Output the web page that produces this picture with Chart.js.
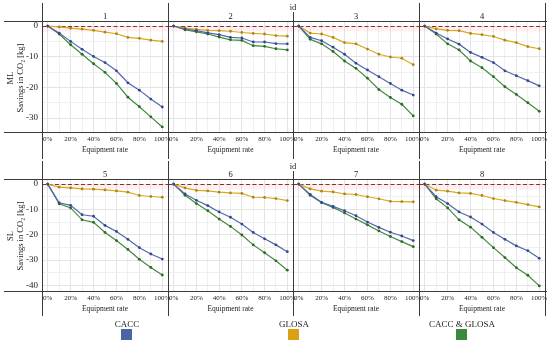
<!DOCTYPE html>
<html>
<head>
<meta charset="utf-8">
<script src="https://cdn.jsdelivr.net/npm/chart.js@4.4.1/dist/chart.umd.min.js"></script>
<style>
  body { margin: 0; background: #fff; }
  #fig { position: relative; width: 550px; height: 343px; overflow: hidden; background: #fff;
         font-family: "Liberation Serif", "DejaVu Serif", serif; color: #1a1a1a; }
  #fig canvas { position: absolute; }
  .hl { position: absolute; height: 1px; background: #3a3a3a; }
  .vl { position: absolute; width: 1px; background: #3a3a3a; }
  .lbl { position: absolute; white-space: nowrap; line-height: 1; transform: translate(-50%, -50%); }
  .rot { transform: translate(-50%, -50%) rotate(-90deg); }
  .sw { position: absolute; width: 11px; height: 11px; }
</style>
</head>
<body>
<div id="fig"></div>
<script>
// equipment rate (%) and facet ids
const rates = [0, 10, 20, 30, 40, 50, 60, 70, 80, 90, 100];
const panelIds = [1, 2, 3, 4, 5, 6, 7, 8];
const rowNames = ['ML', 'SL'];
const seriesNames = ['CACC', 'GLOSA', 'CACC & GLOSA'];
const yTicksML = [0, -5, -10, -15, -20, -25, -30];
const yTicksSL = [0, -5, -10, -15, -20, -25, -30, -35, -40];

// savings in CO2 [kg], one array per panel (ids 1..8)
const cacc = [
  [0, -2.3, -5.0, -7.6, -9.9, -11.9, -14.6, -18.5, -20.9, -23.8, -26.4],
  [0, -1.0, -1.5, -2.2, -2.8, -3.7, -3.9, -5.2, -5.2, -5.7, -5.8],
  [0, -3.7, -4.8, -6.9, -9.2, -12.1, -14.3, -16.5, -18.7, -20.9, -22.5],
  [0, -2.3, -4.2, -5.9, -8.6, -10.2, -11.9, -14.6, -16.2, -17.8, -19.5],
  [0, -7.4, -8.4, -12.1, -12.7, -16.3, -18.7, -21.8, -25.1, -27.6, -29.6],
  [0, -3.9, -6.4, -8.5, -11.0, -13.1, -15.8, -19.1, -21.6, -24.0, -26.7],
  [0, -4.1, -7.2, -8.8, -10.5, -12.5, -15.0, -17.1, -19.0, -20.5, -22.3],
  [0, -5.0, -7.7, -11.0, -13.0, -15.8, -19.1, -21.8, -24.4, -26.3, -29.3]
];
const glosa = [
  [0, -0.3, -0.7, -1.0, -1.4, -2.0, -2.5, -3.7, -4.0, -4.6, -5.0],
  [0, -0.7, -1.1, -1.4, -1.5, -1.7, -2.1, -2.4, -2.6, -3.1, -3.3],
  [0, -2.3, -2.6, -3.7, -5.4, -5.8, -7.5, -9.2, -10.1, -10.5, -12.6],
  [0, -0.9, -1.4, -1.5, -2.4, -2.8, -3.4, -4.6, -5.4, -6.7, -7.4],
  [0, -1.2, -1.5, -1.9, -2.0, -2.3, -2.7, -3.2, -4.5, -4.9, -5.2],
  [0, -1.5, -2.5, -2.7, -3.2, -3.5, -3.7, -5.2, -5.3, -5.7, -6.5],
  [0, -1.9, -2.8, -3.1, -3.9, -4.1, -5.0, -5.8, -6.8, -6.9, -7.0],
  [0, -2.4, -2.8, -3.5, -3.7, -4.5, -5.7, -6.5, -7.2, -8.1, -9.0]
];
const caccGlosa = [
  [0, -2.6, -6.1, -9.2, -12.3, -15.1, -18.7, -23.2, -26.3, -29.6, -32.9],
  [0, -1.2, -1.9, -2.6, -3.6, -4.5, -4.7, -6.4, -6.6, -7.4, -7.8],
  [0, -4.3, -5.8, -8.3, -11.4, -13.8, -17.0, -20.7, -23.3, -25.5, -29.3],
  [0, -2.6, -5.8, -7.8, -11.4, -13.6, -16.5, -19.8, -22.3, -25.0, -27.8],
  [0, -7.8, -9.4, -14.1, -15.1, -19.1, -22.3, -25.8, -29.7, -32.9, -35.9],
  [0, -4.4, -7.7, -10.5, -13.8, -16.7, -20.1, -24.0, -27.1, -30.3, -34.0],
  [0, -4.4, -7.4, -9.2, -11.4, -13.8, -16.1, -18.5, -20.7, -22.7, -24.7],
  [0, -5.8, -9.4, -14.1, -17.0, -21.0, -25.1, -29.0, -33.0, -36.0, -40.2]
];

const lineColors = ['#5069ad', '#d8aa22', '#418b3b'];
const pointColors = ['#34488a', '#b08612', '#2c6a2a'];
const swatchColors = ['#4a64a6', '#d9a216', '#3b8a3b'];
const FONT = '"Liberation Serif", "DejaVu Serif", serif';

// layout of the facet grid (pixels)
const borders = [42, 168, 293, 419, 545];
const rows = [{ top: 21, bottom: 132 }, { top: 179, bottom: 291 }];
const AXIS_H = 25, PAD = 12;

const fig = document.getElementById('fig');

function addEl(cls, css, text) {
  const d = document.createElement('div');
  d.className = cls;
  Object.assign(d.style, css);
  if (text !== undefined) d.textContent = text;
  fig.appendChild(d);
  return d;
}

// dashed zero line with a faint band under it
const zeroLine = {
  id: 'zeroLine',
  beforeDatasetsDraw(chart) {
    const { ctx, chartArea: a, scales: { y } } = chart;
    const y0 = Math.round(y.getPixelForValue(0)) + 0.5;
    ctx.save();
    ctx.fillStyle = 'rgba(255, 160, 185, 0.16)';
    ctx.fillRect(a.left, y0, a.right - a.left, 5);
    ctx.strokeStyle = '#8e3020';
    ctx.lineWidth = 1;
    ctx.setLineDash([4, 2.5]);
    ctx.beginPath();
    ctx.moveTo(a.left, y0);
    ctx.lineTo(a.right, y0);
    ctx.stroke();
    ctx.restore();
  }
};

const xPad = (rates[rates.length - 1] - rates[0]) * 0.05;

panelIds.forEach((id, i) => {
  const row = Math.floor(i / 4), col = i % 4;
  const r = rows[row];
  const left = borders[col], right = borders[col + 1];

  // y range like ggplot: 5% expansion of the row's data range
  const rowVals = [0, 1, 2, 3].flatMap(c => {
    const k = row * 4 + c;
    return [...cacc[k], ...glosa[k], ...caccGlosa[k]];
  });
  const lo = Math.min(...rowVals), hi = Math.max(...rowVals);
  const yPad = (hi - lo) * 0.05;
  const yTicks = row === 0 ? yTicksML : yTicksSL;

  const cv = document.createElement('canvas');
  const cvLeft = col === 0 ? 0 : left - PAD;
  const cvTop = r.top - PAD;
  cv.width = right + PAD - cvLeft;
  cv.height = r.bottom + AXIS_H - cvTop;
  cv.style.left = cvLeft + 'px';
  cv.style.top = cvTop + 'px';
  fig.appendChild(cv);

  const series = [cacc[i], glosa[i], caccGlosa[i]];

  new Chart(cv, {
    type: 'line',
    data: {
      datasets: series.map((vals, s) => ({
        label: seriesNames[s],
        data: rates.map((x, k) => ({ x: x, y: vals[k] })),
        borderColor: lineColors[s],
        backgroundColor: lineColors[s],
        borderWidth: 1.2,
        pointRadius: 1.4,
        pointBorderWidth: 0,
        pointBackgroundColor: pointColors[s],
        tension: 0
      }))
    },
    options: {
      responsive: false,
      animation: false,
      devicePixelRatio: 1,
      layout: { padding: { left: col === 0 ? 0 : PAD, right: PAD, top: PAD, bottom: 0 } },
      plugins: { legend: { display: false }, tooltip: { enabled: false } },
      scales: {
        x: {
          type: 'linear',
          min: rates[0] - xPad,
          max: rates[rates.length - 1] + xPad,
          afterBuildTicks: s => { s.ticks = rates.map(v => ({ value: v })); },
          afterFit: s => { s.height = AXIS_H; },
          border: { display: false },
          grid: {
            drawTicks: false,
            color: c => (c.tick && c.tick.value % 20 === 0) ? '#e4e4e4' : '#f0f0f0'
          },
          ticks: {
            autoSkip: false, maxRotation: 0, padding: 3,
            font: { family: FONT, size: 7 }, color: '#222',
            callback: v => v % 20 === 0 ? v + '%' : ''
          },
          title: {
            display: true, text: 'Equipment rate',
            font: { family: FONT, size: 7.5 }, color: '#222',
            padding: { top: 0, bottom: 2 }
          }
        },
        y: {
          min: lo - yPad,
          max: hi + yPad,
          afterBuildTicks: s => { s.ticks = yTicks.map(v => ({ value: v })); },
          afterFit: s => { s.width = col === 0 ? left : 0; },
          border: { display: false },
          grid: {
            drawTicks: false,
            color: c => (c.tick && c.tick.value % 10 === 0) ? '#e4e4e4' : '#f0f0f0'
          },
          ticks: {
            display: col === 0, padding: 4,
            font: { family: FONT, size: 9 }, color: '#222',
            callback: v => v % 10 === 0 ? String(v) : ''
          }
        }
      }
    },
    plugins: [zeroLine]
  });

  // strip label
  addEl('lbl', { left: (left + right) / 2 + 'px', top: (r.top - 5) + 'px', fontSize: '8.5px' }, String(id));
});

// facet frame lines
rows.forEach((r, row) => {
  addEl('hl', { left: '4px', width: '543px', top: r.top + 'px' });
  addEl('hl', { left: '4px', width: '543px', top: r.bottom + 'px' });
  borders.forEach((b, k) => {
    const t = row === 0 ? (k === 2 ? 12 : 3) : (k === 2 ? 171 : 161);
    const e = row === 0 ? 159 : 316;
    addEl('vl', { left: b + 'px', top: t + 'px', height: (e - t) + 'px' });
  });
  addEl('lbl', { left: '293px', top: (row === 0 ? 7 : 166) + 'px', fontSize: '8.5px' }, 'id');
  const cy = (r.top + r.bottom) / 2 + 1;
  addEl('lbl rot', { left: '10px', top: cy + 'px', fontSize: '8.5px' }, rowNames[row]);
  addEl('lbl rot', { left: '20px', top: cy + 'px', fontSize: '8.5px' }, 'Savings in CO\u2082 [kg]');
});

// legend
const legendX = [127, 294, 462];
seriesNames.forEach((name, s) => {
  addEl('lbl', { left: legendX[s] + 'px', top: '324px', fontSize: '9px' }, name);
  addEl('sw', { left: (legendX[s] - 6) + 'px', top: '329px', background: swatchColors[s] });
});
</script>
</body>
</html>
